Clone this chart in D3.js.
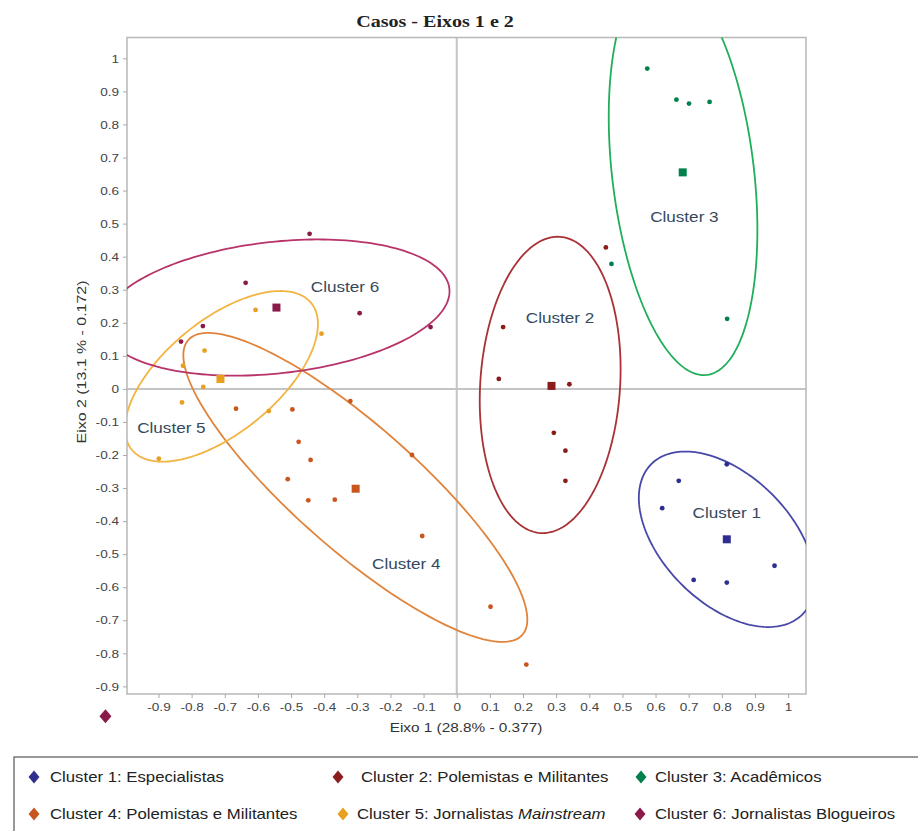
<!DOCTYPE html>
<html>
<head>
<meta charset="utf-8">
<script src="https://cdn.jsdelivr.net/npm/d3@7"></script>
<style>
  body { margin: 0; background: #fff; }
  text { font-family: "Liberation Sans", Arial, sans-serif; }
</style>
</head>
<body>
<div id="chart"></div>
<script>
// Data
var clusterIds = ["1", "2", "3", "4", "5", "6"];
var legendLabels = ["Cluster 1: Especialistas", "Cluster 2: Polemistas e Militantes", "Cluster 3: Acadêmicos",
	"Cluster 4: Polemistas e Militantes", "Cluster 5: Jornalistas ", "Cluster 6: Jornalistas Blogueiros"];
var pointColors = ["#2e2e8f", "#8b1c1c", "#00804a", "#c8561e", "#e8a020", "#8b1a4a"];
var ellipseColors = ["#4848a8", "#a83236", "#1fae5a", "#e0843c", "#f2b440", "#b8336a"];

var c1Points = [[0.815, -0.228], [0.670, -0.278], [0.620, -0.361], [0.715, -0.578], [0.815, -0.586], [0.959, -0.535]];
var c2Points = [[0.450, 0.428], [0.140, 0.187], [0.127, 0.030], [0.340, 0.014], [0.293, -0.133], [0.328, -0.187], [0.328, -0.278]];
var c3Points = [[0.575, 0.969], [0.663, 0.875], [0.701, 0.863], [0.763, 0.868], [0.467, 0.378], [0.816, 0.212]];
var c4Points = [[-0.666, -0.060], [-0.496, -0.062], [-0.321, -0.037], [-0.477, -0.160], [-0.441, -0.215], [-0.135, -0.200],
	[-0.510, -0.273], [-0.448, -0.337], [-0.368, -0.335], [-0.104, -0.445], [0.102, -0.659], [0.210, -0.834]];
var c5Points = [[-0.607, 0.239], [-0.761, 0.116], [-0.826, 0.070], [-0.765, 0.006], [-0.829, -0.041], [-0.408, 0.167],
	[-0.899, -0.211], [-0.567, -0.067]];
var c6Points = [[-0.444, 0.469], [-0.637, 0.321], [-0.293, 0.229], [-0.079, 0.187], [-0.766, 0.190], [-0.832, 0.143]];

var centroids = [[0.815, -0.455], [0.286, 0.009], [0.682, 0.655], [-0.305, -0.302], [-0.713, 0.030], [-0.544, 0.246]];

// ellipses: centre x, centre y, semi-axes a, b, angle (degrees)
var ellipseCx = [0.815, 0.282, 0.683, -0.306, -0.710, -0.544];
var ellipseCy = [-0.455, 0.012, 0.652, -0.298, 0.038, 0.246];
var ellipseA = [0.322, 0.449, 0.614, 0.673, 0.350, 0.525];
var ellipseB = [0.193, 0.211, 0.214, 0.187, 0.170, 0.199];
var ellipseAngle = [-45, 86.3, 96.7, -41.5, 39.4, 6.3];

// where the "Cluster n" labels sit (data units)
var labelX = [0.815, 0.312, 0.687, -0.152, -0.861, -0.337];
var labelY = [-0.376, 0.214, 0.519, -0.529, -0.119, 0.309];

var xTicks = [-0.9, -0.8, -0.7, -0.6, -0.5, -0.4, -0.3, -0.2, -0.1, 0, 0.1, 0.2, 0.3, 0.4, 0.5, 0.6, 0.7, 0.8, 0.9, 1];
var yTicks = [-0.9, -0.8, -0.7, -0.6, -0.5, -0.4, -0.3, -0.2, -0.1, 0, 0.1, 0.2, 0.3, 0.4, 0.5, 0.6, 0.7, 0.8, 0.9, 1];

var allPoints = [c1Points, c2Points, c3Points, c4Points, c5Points, c6Points];

// set the dimensions of the page and plot frame
var W = 918, H = 831;
var frame = { left: 127, right: 806, top: 37.5, bottom: 694 };
// the original picture's text runs wider than the fonts here
var stretchX = 1.18;

var svg = d3.select("#chart")
	.append("svg")
	.attr("width", W)
	.attr("height", H);

var x = d3.scaleLinear()
	.domain([-0.995, 1.054])
	.range([frame.left, frame.right]);
var y = d3.scaleLinear()
	.domain([-0.923, 1.063])
	.range([frame.bottom, frame.top]);

var fmt = function (d) { return String(+d.toFixed(1)); };

// widen a text selection without changing its anchor
var stretch = function (sel) {
	sel.each(function () {
		var w = this.getComputedTextLength();
		d3.select(this)
			.attr("textLength", w * stretchX)
			.attr("lengthAdjust", "spacingAndGlyphs");
	});
};

// Title
svg.append("text")
	.attr("x", 435)
	.attr("y", 27)
	.attr("text-anchor", "middle")
	.style("font-family", "'Liberation Serif', 'Times New Roman', serif")
	.style("font-weight", "bold")
	.style("font-size", "17px")
	.style("fill", "#222")
	.text("Casos - Eixos 1 e 2")
	.call(stretch);

// clip for the plot area
svg.append("clipPath")
	.attr("id", "plotClip")
	.append("rect")
	.attr("x", frame.left)
	.attr("y", frame.top)
	.attr("width", frame.right - frame.left)
	.attr("height", frame.bottom - frame.top);

// zero lines
svg.append("line")
	.attr("x1", x(0)).attr("x2", x(0))
	.attr("y1", frame.top).attr("y2", frame.bottom)
	.style("stroke", "#c4c4c4")
	.style("stroke-width", 2);
svg.append("line")
	.attr("x1", frame.left).attr("x2", frame.right)
	.attr("y1", y(0)).attr("y2", y(0))
	.style("stroke", "#c4c4c4")
	.style("stroke-width", 2);

// frame
svg.append("rect")
	.attr("x", frame.left)
	.attr("y", frame.top)
	.attr("width", frame.right - frame.left)
	.attr("height", frame.bottom - frame.top)
	.style("fill", "none")
	.style("stroke", "#b8b8b8")
	.style("stroke-width", 1.5);

// Build X axis
var xAxis = svg.append("g")
	.attr("transform", "translate(0," + frame.bottom + ")")
	.call(d3.axisBottom(x).tickValues(xTicks).tickFormat(fmt).tickSize(4).tickPadding(5));
xAxis.select(".domain").remove();

// Build Y axis
var yAxis = svg.append("g")
	.attr("transform", "translate(" + frame.left + ",0)")
	.call(d3.axisLeft(y).tickValues(yTicks).tickFormat(fmt).tickSize(4).tickPadding(4));
yAxis.select(".domain").remove();

svg.selectAll(".tick line").style("stroke", "#aaa");
svg.selectAll(".tick text")
	.style("font-size", "11.5px")
	.style("fill", "#444")
	.style("font-family", "'Liberation Sans', Arial, sans-serif")
	.call(stretch);

// axis titles
svg.append("text")
	.attr("x", 466)
	.attr("y", 732)
	.attr("text-anchor", "middle")
	.style("font-size", "13px")
	.style("fill", "#333")
	.text("Eixo 1 (28.8% - 0.377)")
	.call(stretch);

svg.append("text")
	.attr("transform", "translate(86,362) rotate(-90)")
	.attr("text-anchor", "middle")
	.style("font-size", "13.5px")
	.style("fill", "#333")
	.text("Eixo 2 (13.1 % - 0.172)")
	.call(stretch);

var plot = svg.append("g").attr("clip-path", "url(#plotClip)");

// ellipses
var line = d3.line()
	.x(function (d) { return x(d[0]); })
	.y(function (d) { return y(d[1]); })
	.curve(d3.curveLinearClosed);

var ellipsePts = function (i) {
	var th = ellipseAngle[i] * Math.PI / 180, pts = [];
	for (var k = 0; k < 180; k++) {
		var t = k / 180 * 2 * Math.PI;
		var ex = ellipseA[i] * Math.cos(t), ey = ellipseB[i] * Math.sin(t);
		pts.push([ellipseCx[i] + ex * Math.cos(th) - ey * Math.sin(th),
			ellipseCy[i] + ex * Math.sin(th) + ey * Math.cos(th)]);
	}
	return pts;
};

plot.selectAll(".ellipse")
	.data(clusterIds)
	.enter()
	.append("path")
	.attr("class", "ellipse")
	.attr("d", function (d, i) { return line(ellipsePts(i)); })
	.style("fill", "none")
	.style("stroke", function (d, i) { return ellipseColors[i]; })
	.style("stroke-width", 1.8);

// points
allPoints.forEach(function (pts, i) {
	plot.selectAll(".pt" + i)
		.data(pts)
		.enter()
		.append("circle")
		.attr("cx", function (d) { return x(d[0]); })
		.attr("cy", function (d) { return y(d[1]); })
		.attr("r", 2.4)
		.style("fill", pointColors[i]);
});

// centroids
plot.selectAll(".centroid")
	.data(centroids)
	.enter()
	.append("rect")
	.attr("x", function (d) { return x(d[0]) - 4; })
	.attr("y", function (d) { return y(d[1]) - 4; })
	.attr("width", 8)
	.attr("height", 8)
	.style("fill", function (d, i) { return pointColors[i]; });

// cluster labels
plot.selectAll(".clabel")
	.data(clusterIds)
	.enter()
	.append("text")
	.attr("x", function (d, i) { return x(labelX[i]); })
	.attr("y", function (d, i) { return y(labelY[i]); })
	.attr("dy", "0.35em")
	.attr("text-anchor", "middle")
	.style("font-size", "14.5px")
	.style("fill", "#34495e")
	.text(function (d) { return "Cluster " + d; })
	.call(stretch);

// stray legend marker under the axis
svg.append("path")
	.attr("transform", "translate(" + x(-1.06) + "," + y(-0.99) + ")")
	.attr("d", "M0,-7L6,0L0,7L-6,0Z")
	.style("fill", pointColors[5]);

// Build legend
svg.append("rect")
	.attr("x", 14)
	.attr("y", 757)
	.attr("width", 920)
	.attr("height", 90)
	.style("fill", "#fff")
	.style("stroke", "#555")
	.style("stroke-width", 1.2);

var legX = [34, 338, 641, 34, 343, 640];
var legTextX = [50, 361, 655, 50, 357, 655];
var legY = [777, 777, 777, 814, 814, 814];

var leg = svg.selectAll(".leg")
	.data(legendLabels)
	.enter()
	.append("g")
	.attr("class", "leg");

leg.append("path")
	.attr("transform", function (d, i) { return "translate(" + legX[i] + "," + legY[i] + ")"; })
	.attr("d", "M0,-6.5L5.5,0L0,6.5L-5.5,0Z")
	.style("fill", function (d, i) { return pointColors[i]; });

var legText = leg.append("text")
	.attr("x", function (d, i) { return legTextX[i]; })
	.attr("y", function (d, i) { return legY[i]; })
	.attr("dy", "0.35em")
	.style("font-size", "14.2px")
	.style("fill", "#222")
	.text(function (d) { return d; });

legText.filter(function (d, i) { return i === 4; })
	.append("tspan")
	.style("font-style", "italic")
	.text("Mainstream");

legText.call(stretch);
</script>
</body>
</html>
